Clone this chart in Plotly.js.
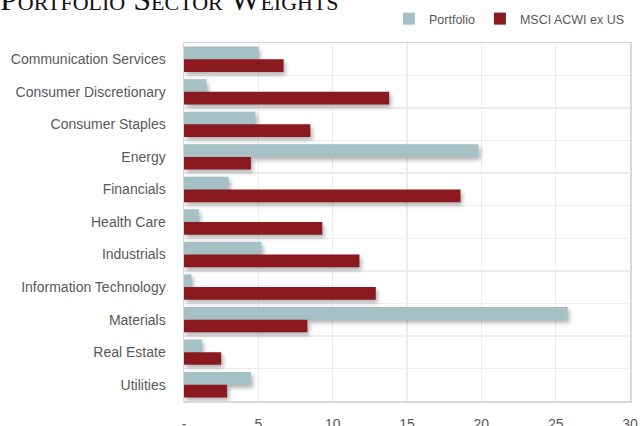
<!DOCTYPE html>
<html>
<head>
<meta charset="utf-8">
<script src="https://cdn.plot.ly/plotly-3.0.1.min.js"></script>
<style>
html,body{margin:0;padding:0;background:#fff;overflow:hidden;}
#chart{width:640px;height:426px;}
.trace.bars .point path{filter:drop-shadow(2px 3px 2px rgba(0,0,0,0.3));}
</style>
</head>
<body>
<div id="chart"></div>
<script>
const categories = ["Communication Services","Consumer Discretionary","Consumer Staples","Energy","Financials","Health Care","Industrials","Information Technology","Materials","Real Estate","Utilities"];
const portfolio = [5.0, 1.5, 4.8, 19.8, 3.0, 1.0, 5.2, 0.5, 25.8, 1.2, 4.5];
const msci = [6.7, 13.8, 8.5, 4.5, 18.6, 9.3, 11.8, 12.9, 8.3, 2.5, 2.9];
const xTickVals = [0, 5, 10, 15, 20, 25, 30];
const xTickText = ["-", "5", "10", "15", "20", "25", "30"];

const traces = [
  {type:"bar", orientation:"h", name:"Portfolio", y:categories, x:portfolio,
   marker:{color:"#a5c1c5"}, hoverinfo:"x+y"},
  {type:"bar", orientation:"h", name:"MSCI ACWI ex US", y:categories, x:msci,
   marker:{color:"#8a1a1f"}, hoverinfo:"x+y"}
];

const layout = {
  width:640, height:426,
  margin:{l:184, r:10, t:43, b:25, pad:0},
  paper_bgcolor:"#fff", plot_bgcolor:"#fff",
  barmode:"group", bargap:0.22, bargroupgap:0,
  font:{family:"Liberation Sans, Arial, sans-serif", color:"#595959", size:14},
  title:{text:"Portfolio Sector Weights", x:0, xref:"container", xanchor:"left",
         y:1 - 10/426, yref:"container", yanchor:"bottom", pad:{t:0,l:0,b:0},
         font:{family:"Liberation Serif, DejaVu Serif, serif", size:32, color:"#111111", variant:"small-caps"}},
  showlegend:true,
  legend:{orientation:"h", x:1, xanchor:"right", y:1 - 19/426, yref:"container", yanchor:"middle",
          font:{size:12.5, color:"#595959"}, itemwidth:20, tracegroupgap:0, traceorder:"normal",
          bgcolor:"rgba(0,0,0,0)"},
  xaxis:{range:[0,30], tickvals:xTickVals, ticktext:xTickText, showgrid:true, gridcolor:"#ececec", gridwidth:1.5,
         zeroline:false, showline:true, linecolor:"#d9d9d9", linewidth:1.5, mirror:true,
         ticks:"outside", ticklen:10, tickcolor:"rgba(0,0,0,0)", tickfont:{size:14, color:"#595959"}, fixedrange:true},
  yaxis:{type:"category", autorange:"reversed", tickson:"boundaries", showgrid:true, gridcolor:"#ececec", gridwidth:1.5,
         showline:true, linecolor:"#d9d9d9", linewidth:1.5, mirror:true,
         ticks:"", ticklabelstandoff:14, tickfont:{size:14, color:"#595959"}, fixedrange:true}
};

Plotly.newPlot("chart", traces, layout, {displayModeBar:false, staticPlot:true});
</script>
</body>
</html>
